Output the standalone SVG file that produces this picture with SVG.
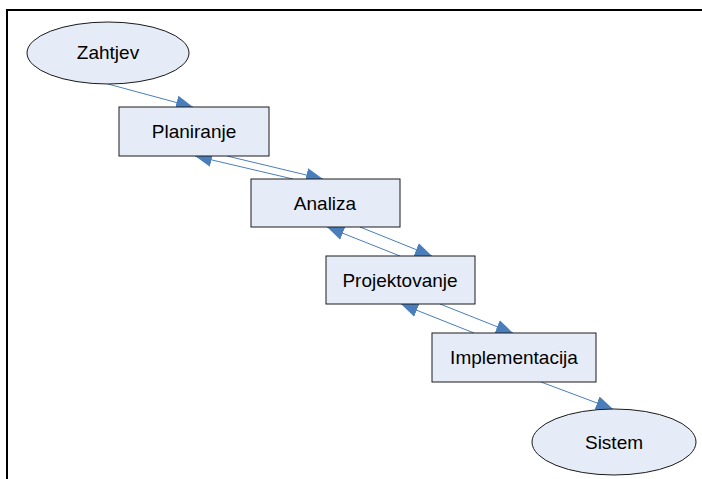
<svg xmlns="http://www.w3.org/2000/svg" width="702" height="479" viewBox="0 0 702 479">
<style>
.n{fill:#E6ECF7;stroke:#1a1a1a;stroke-width:1}
.t{font-family:"Liberation Sans",Arial,sans-serif;font-size:19px;fill:#000;text-anchor:middle;dominant-baseline:central}
.c{stroke:#4A7EBB;stroke-width:1;fill:none;marker-end:url(#ah)}
</style>
<defs>
<marker id="ah" markerUnits="userSpaceOnUse" markerWidth="19" markerHeight="15" refX="17" refY="7.5" orient="auto">
<path d="M0,0.5 L17,7.5 L0,14.5 Z" fill="#4A7EBB"/>
</marker>
</defs>
<rect width="702" height="479" fill="#fff"/>
<path d="M7,479 V10 H702" fill="none" stroke="#000" stroke-width="2"/>
<g id="connectors">
<line class="c" x1="108" y1="84" x2="193" y2="107"/>
<line class="c" x1="227" y1="156" x2="323" y2="179"/>
<line class="c" x1="293" y1="179" x2="195" y2="156"/>
<line class="c" x1="360" y1="227" x2="432" y2="256"/>
<line class="c" x1="400" y1="256" x2="327" y2="227"/>
<line class="c" x1="440" y1="304" x2="513" y2="333"/>
<line class="c" x1="474" y1="333" x2="401" y2="304"/>
<line class="c" x1="541" y1="382" x2="613" y2="409"/>
</g>
<g id="zahtjev"><ellipse class="n" cx="108" cy="53" rx="81" ry="31"/><text class="t" x="108" y="52">Zahtjev</text></g>
<g id="planiranje"><rect class="n" x="119" y="107" width="150" height="49"/><text class="t" x="194" y="131">Planiranje</text></g>
<g id="analiza"><rect class="n" x="251" y="179" width="149" height="48"/><text class="t" x="325" y="203">Analiza</text></g>
<g id="projektovanje"><rect class="n" x="326" y="256" width="149" height="48"/><text class="t" x="400" y="280">Projektovanje</text></g>
<g id="implementacija"><rect class="n" x="432" y="333" width="164" height="49"/><text class="t" x="514" y="357">Implementacija</text></g>
<g id="sistem"><ellipse class="n" cx="614" cy="442" rx="82" ry="33"/><text class="t" x="614" y="442">Sistem</text></g>
</svg>
